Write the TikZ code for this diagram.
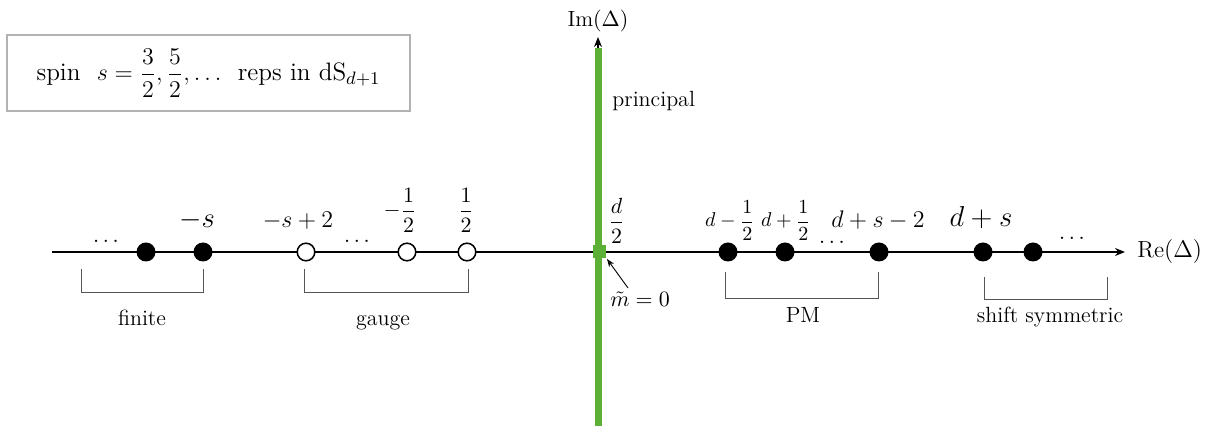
\documentclass[tikz,border=0pt]{standalone}
\usepackage{amsmath}
\usetikzlibrary{arrows.meta}
\definecolor{pgreen}{RGB}{92,176,54}
\definecolor{brk}{RGB}{85,85,85}
\begin{document}
\begin{tikzpicture}[x=0.5pt,y=-0.5pt,
  lbl/.style={inner sep=0pt, font=\fontsize{11}{13}\selectfont},
  mlbl/.style={inner sep=0pt, font=\fontsize{11.6}{14}\selectfont},
  big/.style={inner sep=0pt, font=\fontsize{13.3}{16}\selectfont},
  fracl/.style={inner sep=0pt, font=\fontsize{10.6}{12}\selectfont},
  fracd/.style={inner sep=0pt, font=\fontsize{10}{12}\selectfont},
  fdot/.style={circle, fill=black, minimum size=9.5pt, inner sep=0pt},
  odot/.style={circle, draw=black, fill=white, line width=0.75pt, minimum size=8.8pt, inner sep=0pt},
  brkt/.style={draw=brk, line width=0.5pt},
  axisline/.style={line width=0.8pt, -{Stealth[length=5pt,width=4pt]}}]
\useasboundingbox (0,0) rectangle (1217,432);
% title box
\node[draw=gray!60, line width=0.7pt, minimum width=201.5pt, minimum height=38pt, inner sep=0pt,
  font=\fontsize{12.6}{15}\selectfont] (title) at (208.5,73)
  {spin~ $s=\dfrac32,\dfrac52,\ldots$~ reps in dS$_{d+1}$};
% axes
\coordinate (xs) at (52,252);
\coordinate (xe) at (1125,252);
\draw[axisline] (xs) -- (xe);
\coordinate (ys) at (598,426);
\coordinate (ye) at (598,37);
\draw[axisline] (ys) -- (ye);
\coordinate (gs) at (598,426);
\coordinate (ge) at (598,48);
\draw[pgreen, line width=3.5pt] (gs) -- (ge);
\node[fill=pgreen, minimum size=6.5pt, inner sep=0pt] (orig) at (599,252) {};
\node[lbl, anchor=base] (im) at (598,27) {Im$(\Delta)$};
\node[mlbl, anchor=base west] (re) at (1137,258) {Re$(\Delta)$};
\node[lbl, anchor=base west] (princ) at (612,107) {principal};
\node[lbl, anchor=base west] (half) at (608,228) {$\displaystyle\frac{d}{2}$};
\node[lbl, anchor=base west] (mt) at (610,307) {$\tilde m=0$};
\coordinate (mta) at (628,288);
\coordinate (mtb) at (607,259);
\draw[line width=0.45pt, -{Stealth[length=4pt,width=3pt]}] (mta) -- (mtb);
% dots
\node[fdot] (p1) at (146,252) {};
\node[fdot] (p2) at (203,252) {};
\node[odot] (g1) at (306,252) {};
\node[odot] (g2) at (407,252) {};
\node[odot] (g3) at (467,252) {};
\node[fdot] (m1) at (728,252) {};
\node[fdot] (m2) at (785,252) {};
\node[fdot] (m3) at (879,252) {};
\node[fdot] (s1) at (983,252) {};
\node[fdot] (s2) at (1033,252) {};
% ellipses
\node[lbl, anchor=base] (e1) at (106,243) {$\ldots$};
\node[lbl, anchor=base] (e2) at (357,243) {$\ldots$};
\node[lbl, anchor=base] (e3) at (832,244) {$\ldots$};
\node[lbl, anchor=base] (e4) at (1072,240) {$\ldots$};
% labels above
\node[big, anchor=base] (lp2) at (197,228) {$-s$};
\node[mlbl, anchor=base] (lg1) at (298,228) {$-s+2$};
\node[fracl, anchor=base] (lg2) at (400,217) {$-\dfrac12$};
\node[fracl, anchor=base] (lg3) at (466,217) {$\dfrac12$};
\node[fracd, anchor=base] (lm1) at (730,227) {$d-\dfrac12$};
\node[fracd, anchor=base] (lm2) at (786,227) {$d+\dfrac12$};
\node[mlbl, anchor=base] (lm3) at (878,228) {$d+s-2$};
\node[big, anchor=base] (ls1) at (981,227) {$d+s$};
% brackets
\draw[brkt] (81,269) -- (81,293) -- (203,293) -- (203,269);
\draw[brkt] (304,269) -- (304,293) -- (468,293) -- (468,269);
\draw[brkt] (725,272) -- (725,299) -- (878,299) -- (878,272);
\draw[brkt] (984,277) -- (984,300) -- (1107,300) -- (1107,277);
\node[lbl, anchor=base] (fin) at (142,326) {finite};
\node[lbl, anchor=base] (gau) at (383,326) {gauge};
\node[lbl, anchor=base] (pm) at (803,323) {PM};
\node[lbl, anchor=base] (shs) at (1050,323) {shift symmetric};
\end{tikzpicture}
\end{document}
